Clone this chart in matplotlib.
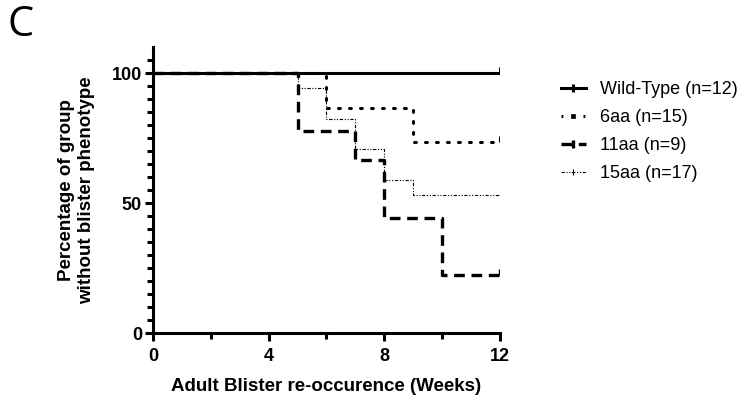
import matplotlib.pyplot as plt
from matplotlib.lines import Line2D

# survival curves (weeks, percent without phenotype)
wt_weeks = [0, 12]
wt_pct = [100, 100]
aa6_weeks = [0, 6, 9, 12]
aa6_pct = [100, 86.7, 73.3, 73.3]
aa11_weeks = [0, 5, 7, 8, 10, 12]
aa11_pct = [100, 77.8, 66.7, 44.4, 22.2, 22.2]
aa15_weeks = [0, 5, 6, 7, 8, 9, 12]
aa15_pct = [100, 94.1, 82.4, 70.6, 58.8, 52.9, 52.9]

labels = ['Wild-Type (n=12)', '6aa (n=15)', '11aa (n=9)', '15aa (n=17)']

plt.rcParams['font.family'] = ['Liberation Sans', 'DejaVu Sans']

fig = plt.figure(figsize=(7.46, 3.98), dpi=100)
ax = fig.add_axes([0.2051, 0.1633, 0.4651, 0.7186])

styles = [
    dict(color='black', lw=2.2, ls='-'),
    dict(color='black', lw=2.2, ls=(0, (0.6, 3.0)), dash_capstyle='round'),
    dict(color='black', lw=2.4, ls=(0, (3.2, 2.0))),
    dict(color='black', lw=0.8, ls=(0, (3, 1.5, 1, 1.5, 1, 1.5))),
]
series = [(wt_weeks, wt_pct), (aa6_weeks, aa6_pct), (aa11_weeks, aa11_pct), (aa15_weeks, aa15_pct)]

for (wk, pc), st in zip(series, styles):
    ax.step(wk, pc, where='post', **st)
    # censor tick at the end
    ax.plot([wk[-1], wk[-1]], [pc[-1], pc[-1] + 2.5], color='black', lw=st['lw'], solid_capstyle='butt')

ax.set_xlim(0, 12)
ax.set_ylim(0, 110)
ax.set_xticks([0, 4, 8, 12])
ax.set_xticks([2, 6, 10], minor=True)
ax.set_yticks([0, 50, 100])
ax.set_yticks([v for v in range(5, 110, 5) if v not in (0, 50, 100)], minor=True)

for s in ['top', 'right']:
    ax.spines[s].set_visible(False)
for s in ['left', 'bottom']:
    ax.spines[s].set_linewidth(2.2)
ax.tick_params(which='major', length=6, width=2.2, direction='out', labelsize=13)
ax.tick_params(which='minor', length=4, width=2.2, direction='out')
for t in ax.get_xticklabels() + ax.get_yticklabels():
    t.set_fontweight('bold')
ax.tick_params(axis='x', which='major', pad=5)
ax.tick_params(axis='y', which='major', pad=2)

ax.set_xlabel('Adult Blister re-occurence (Weeks)', fontsize=13.5, fontweight='bold', labelpad=9)
ax.set_ylabel('Percentage of group\nwithout blister phenotype', fontsize=13.5, fontweight='bold', labelpad=12)

handles = []
markers = ['|', 's', '|', '|']
msizes = [6, 3.5, 6, 5]
for st, mk, ms in zip(styles, markers, msizes):
    handles.append(Line2D([0], [0], color='black', lw=st['lw'], ls=st['ls'],
                          marker=mk, markersize=ms, markeredgewidth=st['lw'] if mk == '|' else 0.5))
leg = ax.legend(handles, labels, loc='upper left', bbox_to_anchor=(1.175, 0.88), frameon=False,
                fontsize=13, handlelength=1.4, handletextpad=0.8, labelspacing=0.6, borderaxespad=0,
                borderpad=0)

fig.text(0.01, 0.99, 'C', fontsize=30, family=['Open Sans', 'DejaVu Sans'], va='top', ha='left')

fig.savefig('out.png', dpi=100)
